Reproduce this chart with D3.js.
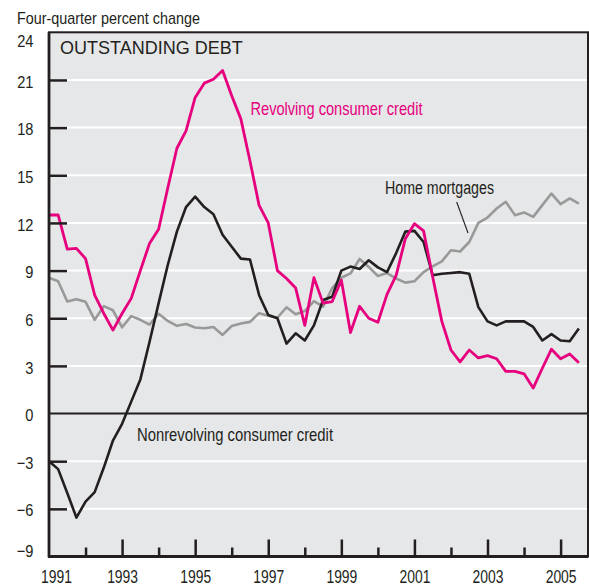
<!DOCTYPE html>
<html><head><meta charset="utf-8">
<script src="https://cdn.jsdelivr.net/npm/d3@7"></script>
<style>
html,body{margin:0;padding:0;background:#fff;}
svg text{font-family:"Liberation Sans",Arial,sans-serif;fill:#231f20;}
</style></head>
<body><svg id="c" width="589" height="587"></svg>
<script>
const quarters = [
"1991Q1","1991Q2","1991Q3","1991Q4","1992Q1","1992Q2","1992Q3","1992Q4",
"1993Q1","1993Q2","1993Q3","1993Q4","1994Q1","1994Q2","1994Q3","1994Q4",
"1995Q1","1995Q2","1995Q3","1995Q4","1996Q1","1996Q2","1996Q3","1996Q4",
"1997Q1","1997Q2","1997Q3","1997Q4","1998Q1","1998Q2","1998Q3","1998Q4",
"1999Q1","1999Q2","1999Q3","1999Q4","2000Q1","2000Q2","2000Q3","2000Q4",
"2001Q1","2001Q2","2001Q3","2001Q4","2002Q1","2002Q2","2002Q3","2002Q4",
"2003Q1","2003Q2","2003Q3","2003Q4","2004Q1","2004Q2","2004Q3","2004Q4",
"2005Q1","2005Q2","2005Q3"];
const revolving = [12.5,12.5,10.35,10.4,9.75,7.45,6.3,5.25,6.3,7.25,9.0,10.7,11.6,14.2,16.7,17.8,19.9,20.8,21.05,21.6,20.0,18.55,15.9,13.1,12.0,9.0,8.5,7.9,5.55,8.55,6.95,7.05,8.4,5.1,6.75,6.0,5.75,7.5,8.7,11.0,11.95,11.5,8.6,5.8,4.0,3.25,4.0,3.5,3.65,3.45,2.65,2.65,2.5,1.6,2.85,4.05,3.45,3.75,3.2];
const nonrevolving = [-3.0,-3.5,-5.0,-6.55,-5.55,-4.95,-3.4,-1.7,-0.65,0.75,2.15,4.5,6.95,9.35,11.45,13.0,13.65,13.0,12.55,11.25,10.5,9.75,9.7,7.45,6.2,6.0,4.4,5.05,4.6,5.55,7.15,7.35,9.0,9.25,9.1,9.65,9.2,8.9,10.1,11.45,11.5,10.8,8.7,8.8,8.85,8.9,8.8,6.7,5.8,5.55,5.8,5.8,5.8,5.45,4.6,5.0,4.6,4.55,5.35];
const mortgages = [8.55,8.33,7.05,7.2,7.03,5.9,6.76,6.5,5.43,6.13,5.9,5.6,6.28,5.83,5.52,5.64,5.42,5.37,5.45,4.95,5.51,5.67,5.77,6.32,6.15,6.03,6.69,6.25,6.45,7.07,6.73,7.9,8.55,8.82,9.73,9.23,8.66,8.84,8.5,8.24,8.33,8.9,9.27,9.58,10.28,10.2,10.8,12.0,12.34,12.91,13.33,12.49,12.66,12.38,13.12,13.85,13.18,13.54,13.22];
const yTicks = [-9,-6,-3,0,3,6,9,12,15,18,21,24];
const xMajor = [1991,1993,1995,1997,1999,2001,2003,2005];
const xMinor = [1992,1994,1996,1998,2000,2002,2004];

const svg = d3.select("#c");
const L=49, R=588, T=32.3, B=556.5;
const x = d3.scaleLinear().domain([1991,2005.75]).range([L,R]);
const y = d3.scaleLinear().domain([-9,24]).range([B,T]);
const tOf = q => +q.slice(0,4) + (+q.slice(5)-1)/4;
const dark = "#231f20";

// condense a text element horizontally (emulates a condensed face)
function squeeze(sel, factor){
  sel.each(function(){
    const w = this.getComputedTextLength();
    if (w>0) d3.select(this).attr("textLength", w*factor).attr("lengthAdjust","spacingAndGlyphs");
  });
}

svg.append("rect").attr("x",L).attr("y",T).attr("width",R-L).attr("height",B-T).attr("fill","#e6e7e8");

svg.append("g").selectAll("line").data(yTicks.filter(v=>v>-9 && v<24 && v!==0)).join("line")
  .attr("x1",L).attr("x2",R).attr("y1",d=>y(d)).attr("y2",d=>y(d))
  .attr("stroke","#fff").attr("stroke-width",2);

svg.append("line").attr("x1",L).attr("x2",R).attr("y1",y(0)).attr("y2",y(0)).attr("stroke",dark).attr("stroke-width",2);

svg.append("text").attr("x",17).attr("y",24).style("font-size","17px").text("Four-quarter percent change")
  .attr("textLength",183).attr("lengthAdjust","spacingAndGlyphs");
svg.append("text").attr("x",60).attr("y",54.3).style("font-size","18px").text("OUTSTANDING DEBT");

const line = d3.line().x((d,i)=>x(tOf(quarters[i]))).y(d=>y(d));
svg.append("path").datum(mortgages).attr("d",line).attr("fill","none").attr("stroke","#999999").attr("stroke-width",2.6).attr("stroke-linejoin","round");
svg.append("path").datum(nonrevolving).attr("d",line).attr("fill","none").attr("stroke",dark).attr("stroke-width",2.6).attr("stroke-linejoin","round");
svg.append("path").datum(revolving).attr("d",line).attr("fill","none").attr("stroke","#e6007e").attr("stroke-width",2.8).attr("stroke-linejoin","round");

svg.append("text").attr("x",250.5).attr("y",115).style("font-size","18.5px").style("fill","#e6007e").text("Revolving consumer credit")
  .attr("textLength",172).attr("lengthAdjust","spacingAndGlyphs");
svg.append("text").attr("x",385).attr("y",194).style("font-size","18px").text("Home mortgages")
  .attr("textLength",109).attr("lengthAdjust","spacingAndGlyphs");
svg.append("text").attr("x",137).attr("y",441).style("font-size","18.5px").text("Nonrevolving consumer credit")
  .attr("textLength",196).attr("lengthAdjust","spacingAndGlyphs");
svg.append("line").attr("x1",456.7).attr("y1",202).attr("x2",468).attr("y2",233).attr("stroke",dark).attr("stroke-width",1.1);

svg.append("rect").attr("x",L).attr("y",T).attr("width",R-L).attr("height",B-T).attr("fill","none").attr("stroke",dark).attr("stroke-width",2);
svg.append("line").attr("x1",L).attr("x2",L).attr("y1",T).attr("y2",B+1).attr("stroke",dark).attr("stroke-width",2.8);
svg.append("line").attr("x1",L-1).attr("x2",R).attr("y1",B).attr("y2",B).attr("stroke",dark).attr("stroke-width",2.8);

const ya = svg.append("g").attr("transform",`translate(${L},0)`)
  .call(d3.axisLeft(y).tickValues(yTicks).tickSizeInner(-18).tickSizeOuter(0).tickPadding(15.5)
    .tickFormat(d=> d<0 ? "\u2212"+Math.abs(d) : String(d)));
ya.select(".domain").remove();
ya.selectAll(".tick line").attr("stroke",dark).attr("stroke-width",2.5)
  .filter(d=>d===24||d===0||d===-9).remove();
ya.selectAll(".tick text").style("font-size","17px").attr("fill",dark).attr("font-family",null)
  .attr("dy", d=> d===24 ? "0.85em" : d===-9 ? "0.02em" : "0.42em")
  .call(squeeze, 0.86);

const xa = svg.append("g").attr("transform",`translate(0,${B})`)
  .call(d3.axisBottom(x).tickValues(xMajor).tickSizeInner(-17).tickSizeOuter(0).tickPadding(13).tickFormat(d3.format("d")));
xa.select(".domain").remove();
xa.selectAll(".tick line").attr("stroke",dark).attr("stroke-width",2.5).filter(d=>d===1991).remove();
xa.selectAll(".tick text").style("font-size","19px").attr("fill",dark).attr("font-family",null)
  .attr("dx",d=>d===1991?7:0).call(squeeze, 0.73);

const xm = svg.append("g").attr("transform",`translate(0,${B})`)
  .call(d3.axisBottom(x).tickValues(xMinor).tickSizeInner(-9).tickSizeOuter(0).tickFormat(""));
xm.select(".domain").remove();
xm.selectAll(".tick line").attr("stroke",dark).attr("stroke-width",2.5);
</script></body></html>
